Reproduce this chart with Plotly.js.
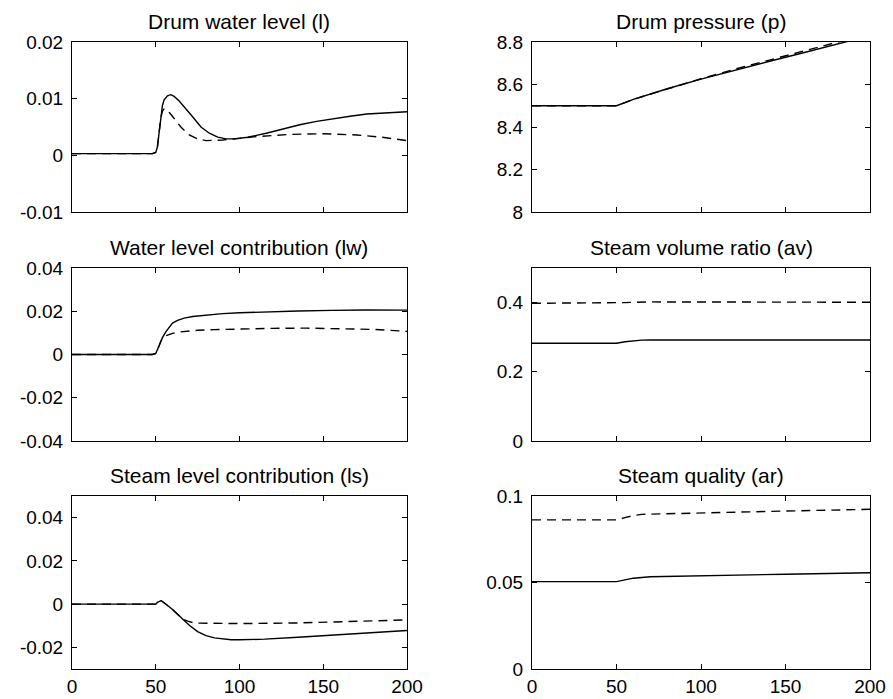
<!DOCTYPE html>
<html>
<head>
<meta charset="utf-8">
<script src="https://cdn.plot.ly/plotly-3.0.1.min.js"></script>
<style>html,body{margin:0;padding:0;background:#fff;}#chart{width:893px;height:699px;}</style>
</head>
<body>
<div id="chart"></div>
<script>
// ---- Data ----
const xTicks = [0, 50, 100, 150, 200];
const xTickText = ["0", "50", "100", "150", "200"];

// Drum water level (l)
const tL1 = [0, 48, 50, 51, 52, 53, 54, 55, 57, 59, 61, 64, 67, 72, 77, 82, 87, 92, 97, 105, 116, 126, 136, 146, 156, 166, 176, 188, 200];
const lSolid = [0.0003, 0.0003, 0.0005, 0.0015, 0.004, 0.0069, 0.0088, 0.0098, 0.0105, 0.0107, 0.0104, 0.0096, 0.0086, 0.0068, 0.0050, 0.0039, 0.0032, 0.0029, 0.0029, 0.0032, 0.0039, 0.0047, 0.0054, 0.0060, 0.0065, 0.0069, 0.0073, 0.0075, 0.0077];
const tL2 = [0, 48, 50, 51, 52, 53, 54, 55, 56, 58, 61, 65, 70, 75, 80, 90, 100, 110, 130, 150, 170, 185, 200];
const lDashed = [0.0003, 0.0003, 0.0005, 0.0015, 0.004, 0.0066, 0.0078, 0.0082, 0.0082, 0.0076, 0.0065, 0.0050, 0.0036, 0.0029, 0.0026, 0.0027, 0.0030, 0.0033, 0.0037, 0.0038, 0.0036, 0.0032, 0.0026];
const lTicks = [-0.01, 0, 0.01, 0.02];
const lTickText = ["-0.01", "0", "0.01", "0.02"];

// Drum pressure (p)
const tP = [0, 50, 60, 80, 100, 120, 140, 160, 180, 200];
const pSolid = [8.5, 8.5, 8.53, 8.58, 8.625, 8.668, 8.708, 8.748, 8.79, 8.83];
const pDashed = [8.5, 8.5, 8.53, 8.58, 8.627, 8.672, 8.714, 8.756, 8.80, 8.84];
const pTicks = [8, 8.2, 8.4, 8.6, 8.8];
const pTickText = ["8", "8.2", "8.4", "8.6", "8.8"];

// Water level contribution (lw)
const tW1 = [0, 48, 50, 51, 52, 53, 54, 56, 58, 60, 63, 67, 72, 80, 90, 100, 115, 135, 155, 175, 200];
const lwSolid = [0, 0, 0.0005, 0.002, 0.004, 0.006, 0.0078, 0.0105, 0.0128, 0.0145, 0.0158, 0.0168, 0.0176, 0.0183, 0.0189, 0.0193, 0.0197, 0.0201, 0.0204, 0.0206, 0.0205];
const tW2 = [0, 48, 50, 51, 52, 53, 54, 56, 58, 60, 64, 68, 75, 85, 100, 120, 140, 160, 180, 200];
const lwDashed = [0, 0, 0.0005, 0.002, 0.004, 0.006, 0.0074, 0.0087, 0.0094, 0.0098, 0.0104, 0.0108, 0.0112, 0.0115, 0.0118, 0.0121, 0.0122, 0.0120, 0.0116, 0.0107];
const lwTicks = [-0.04, -0.02, 0, 0.02, 0.04];
const lwTickText = ["-0.04", "-0.02", "0", "0.02", "0.04"];

// Steam volume ratio (av)
const tA1 = [0, 50, 55, 60, 65, 70, 200];
const avSolid = [0.2825, 0.2825, 0.287, 0.290, 0.2915, 0.292, 0.292];
const tA2 = [0, 50, 55, 60, 70, 200];
const avDashed = [0.398, 0.398, 0.400, 0.401, 0.402, 0.401];
const avTicks = [0, 0.2, 0.4];
const avTickText = ["0", "0.2", "0.4"];

// Steam level contribution (ls)
const tS1 = [0, 50, 51, 52, 53, 54, 56, 58, 60, 63, 66, 70, 75, 80, 85, 90, 95, 100, 115, 135, 155, 175, 200];
const lsSolid = [0, 0, 0.0008, 0.0014, 0.0016, 0.0012, 0.0002, -0.0012, -0.0025, -0.0048, -0.0072, -0.0098, -0.0127, -0.0146, -0.0156, -0.0162, -0.0165, -0.0165, -0.0162, -0.0153, -0.0143, -0.0134, -0.0122];
const tS2 = [0, 50, 51, 52, 53, 54, 56, 58, 60, 63, 66, 69, 72, 76, 85, 100, 135, 175, 200];
const lsDashed = [0, 0, 0.0008, 0.0014, 0.0016, 0.0012, 0.0002, -0.0012, -0.0025, -0.0048, -0.0068, -0.0079, -0.0085, -0.0088, -0.0090, -0.0090, -0.0087, -0.0079, -0.0073];
const lsTicks = [-0.02, 0, 0.02, 0.04];
const lsTickText = ["-0.02", "0", "0.02", "0.04"];

// Steam quality (ar)
const tR1 = [0, 50, 55, 60, 70, 100, 150, 200];
const arSolid = [0.0505, 0.0505, 0.0515, 0.0525, 0.0533, 0.0540, 0.0548, 0.0556];
const tR2 = [0, 50, 55, 60, 65, 100, 150, 200];
const arDashed = [0.0862, 0.0862, 0.0875, 0.0887, 0.0894, 0.0903, 0.0913, 0.0923];
const arTicks = [0, 0.05, 0.1];
const arTickText = ["0", "0.05", "0.1"];

const titles = ["Drum water level (l)", "Drum pressure (p)", "Water level contribution (lw)",
                "Steam volume ratio (av)", "Steam level contribution (ls)", "Steam quality (ar)"];

// ---- Layout geometry ----
const W = 893, H = 699;
const FONT = "Liberation Sans, Arial, Helvetica, sans-serif";
const colX = [[72, 407], [532, 870]];
const rowY = [[42, 212], [268, 441], [496, 669]];
const dom = (a, b, n) => [a / n, b / n];
const ydom = (r) => [1 - rowY[r][1] / H, 1 - rowY[r][0] / H];

const solidLine = {color: "#000", width: 1.4};
const dashLine = {color: "#000", width: 1.4, dash: "9px,6px"};

function tr(x, y, line, ax) {
  return {x: x, y: y, type: "scatter", mode: "lines", line: line,
          xaxis: "x" + ax, yaxis: "y" + ax, hoverinfo: "skip", showlegend: false};
}

const data = [
  tr(tL1, lSolid, solidLine, 1), tr(tL2, lDashed, dashLine, 1),
  tr(tP, pSolid, solidLine, 2), tr(tP, pDashed, dashLine, 2),
  tr(tW1, lwSolid, solidLine, 3), tr(tW2, lwDashed, dashLine, 3),
  tr(tA1, avSolid, solidLine, 4), tr(tA2, avDashed, dashLine, 4),
  tr(tS1, lsSolid, solidLine, 5), tr(tS2, lsDashed, dashLine, 5),
  tr(tR1, arSolid, solidLine, 6), tr(tR2, arDashed, dashLine, 6)
];

const yRanges = [[-0.01, 0.02], [8, 8.8], [-0.04, 0.04], [0, 0.5], [-0.03, 0.05], [0, 0.1]];
const yTV = [lTicks, pTicks, lwTicks, avTicks, lsTicks, arTicks];
const yTT = [lTickText, pTickText, lwTickText, avTickText, lsTickText, arTickText];

const layout = {
  width: W, height: H,
  margin: {l: 0, r: 0, t: 0, b: 0},
  paper_bgcolor: "#fff", plot_bgcolor: "#fff",
  font: {family: FONT, size: 19, color: "#000"},
  showlegend: false,
  annotations: []
};

for (let i = 0; i < 6; i++) {
  const r = Math.floor(i / 2), c = i % 2;
  const n = i + 1;
  const common = {
    showline: true, linecolor: "#000", linewidth: 1, mirror: "ticks",
    ticks: "inside", ticklen: 5, tickwidth: 1, tickcolor: "#000",
    showgrid: false, zeroline: false, fixedrange: true,
    tickfont: {family: FONT, size: 19, color: "#000"}
  };
  layout["xaxis" + n] = Object.assign({}, common, {
    domain: dom(colX[c][0], colX[c][1], W), range: [0, 200],
    anchor: "y" + n, tickmode: "array", tickvals: xTicks, ticktext: xTickText,
    showticklabels: r === 2
  });
  layout["yaxis" + n] = Object.assign({}, common, {
    domain: ydom(r), range: yRanges[i], anchor: "x" + n,
    tickmode: "array", tickvals: yTV[i], ticktext: yTT[i],
    ticklabelstandoff: 4
  });
  layout.annotations.push({
    text: titles[i], xref: "paper", yref: "paper",
    x: (colX[c][0] + colX[c][1]) / 2 / W, y: 1 - rowY[r][0] / H,
    xanchor: "center", yanchor: "bottom", yshift: 7, showarrow: false,
    font: {family: FONT, size: 21, color: "#000"}
  });
}

Plotly.newPlot("chart", data, layout, {staticPlot: true, displayModeBar: false});
</script>
</body>
</html>
